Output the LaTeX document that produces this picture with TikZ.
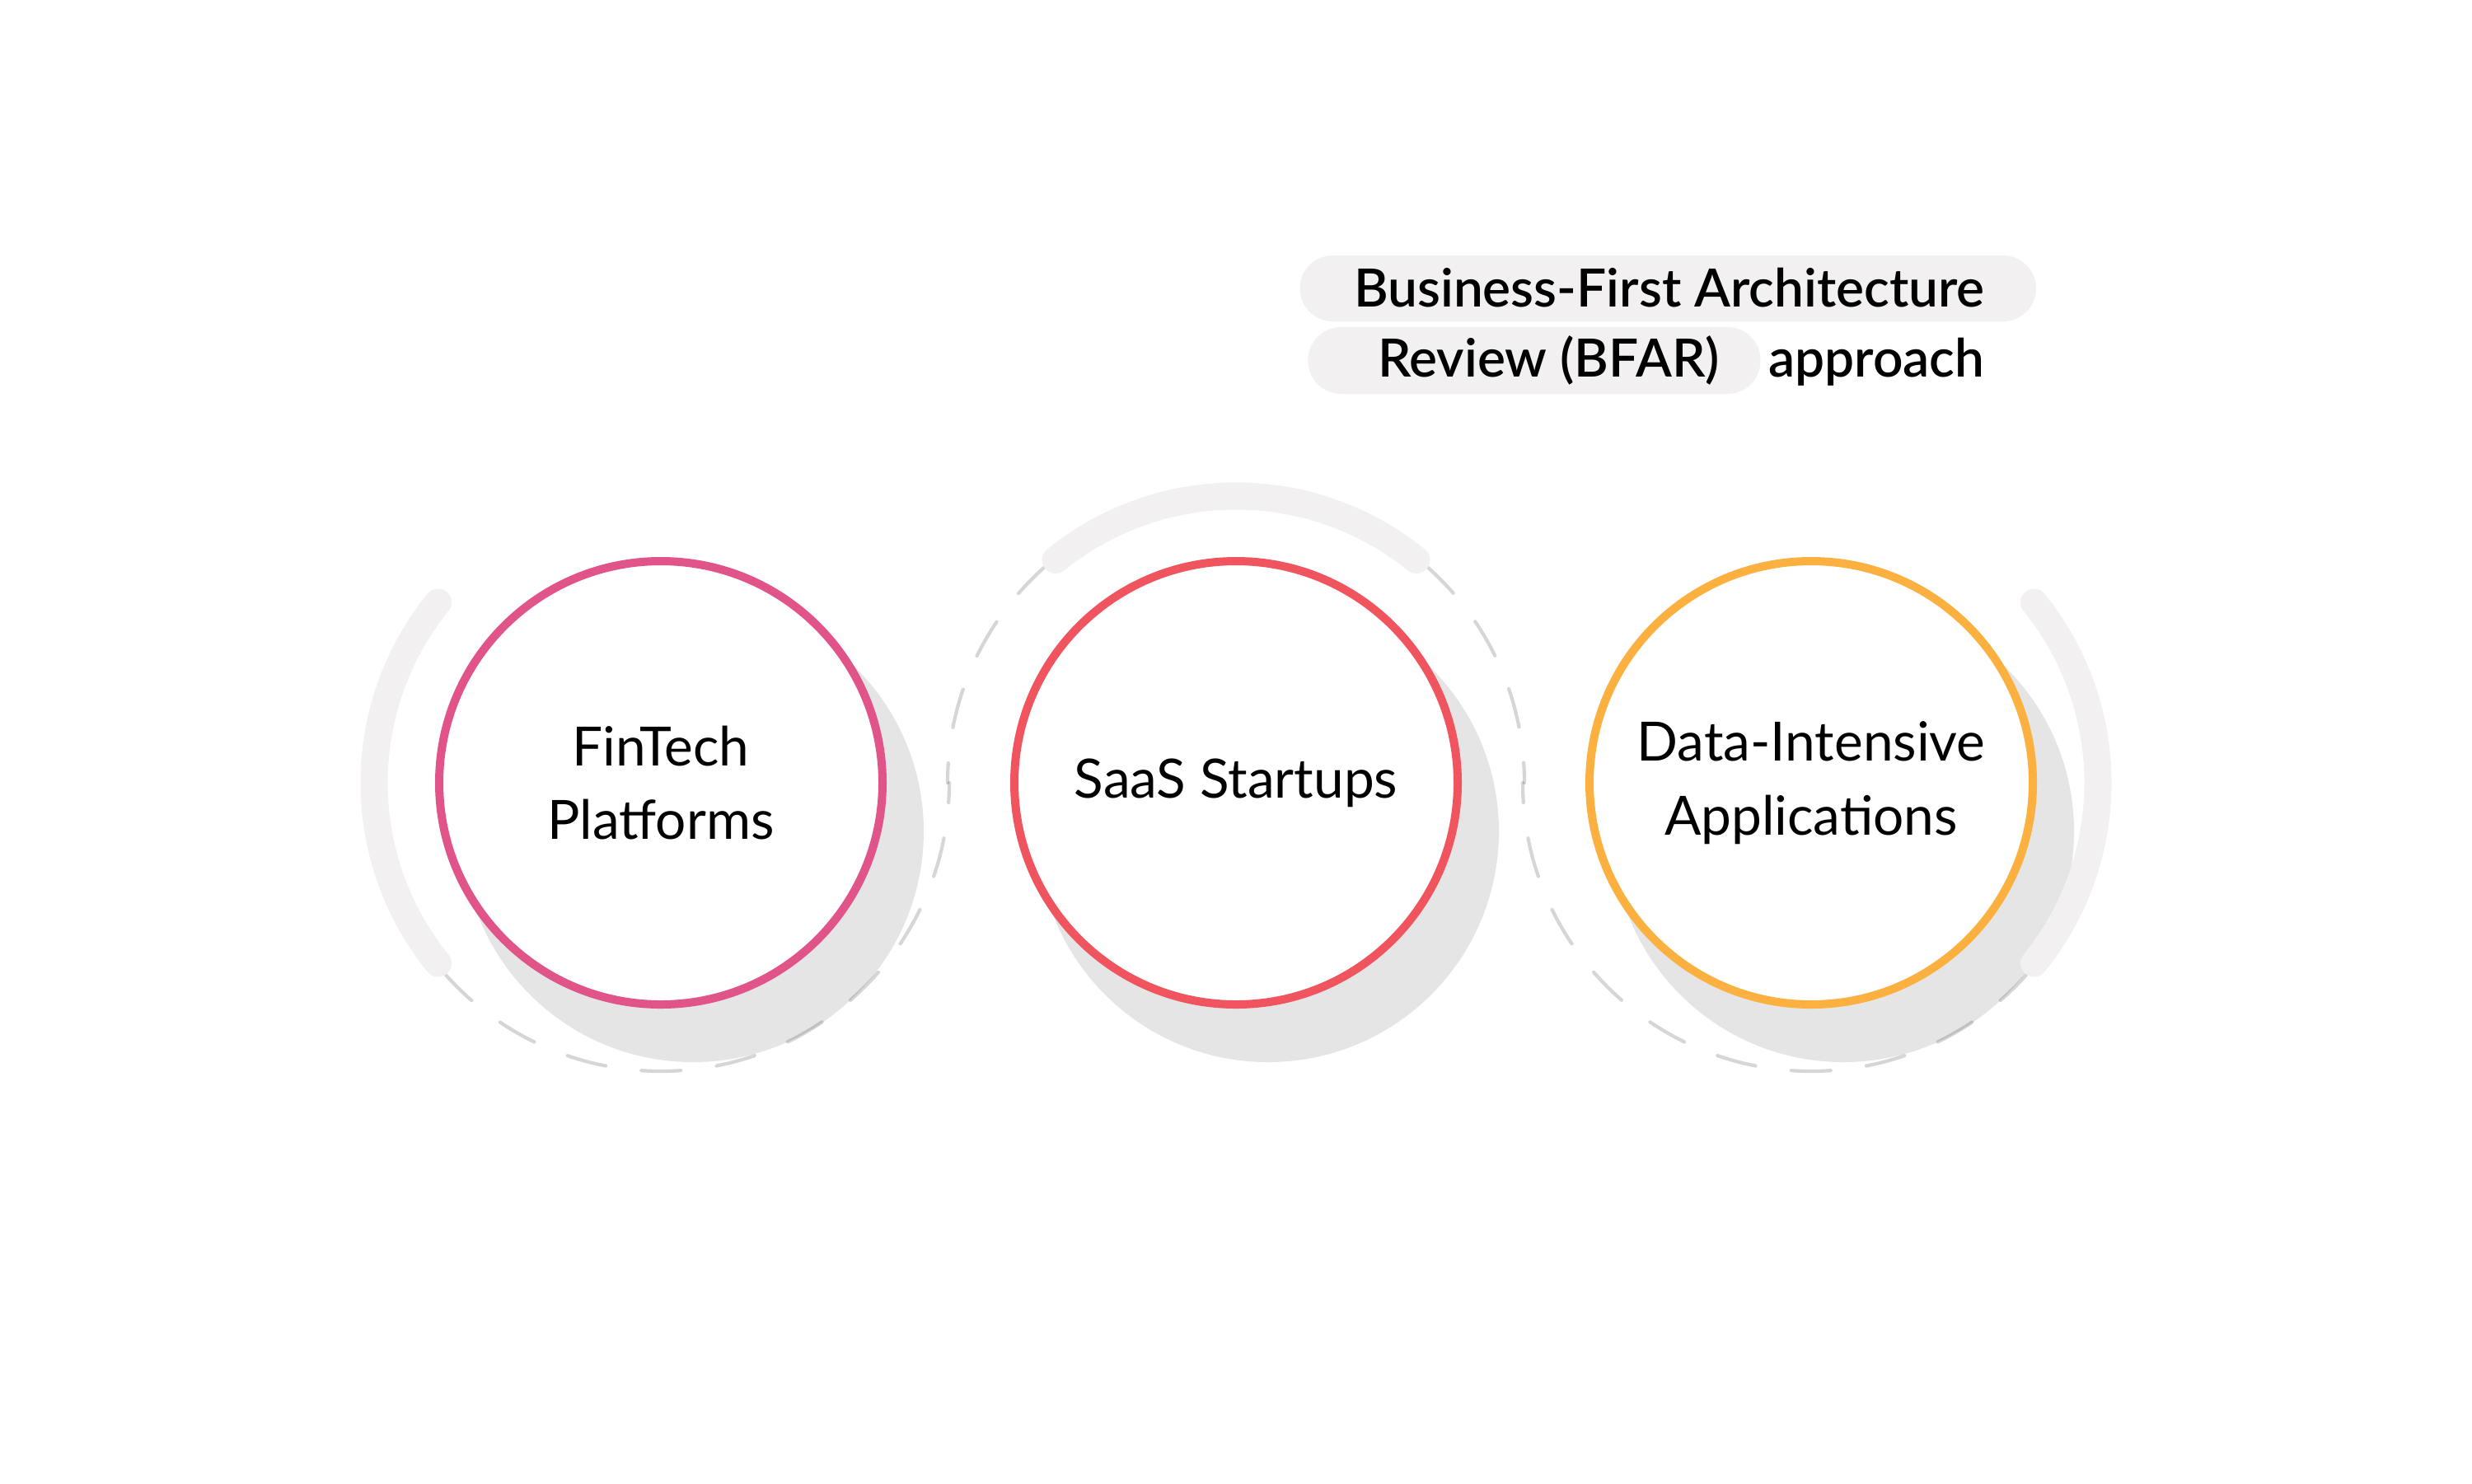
\documentclass[tikz,border=0pt]{standalone}
\usepackage{fontspec}
\setmainfont{Lato}
\newfontfamily\titlefont{Lato Semibold}
\usepackage{tikz}
\usetikzlibrary{positioning}
\usetikzlibrary{calc,backgrounds}
\definecolor{mypink}{RGB}{224,84,138}
\definecolor{myred}{RGB}{240,84,94}
\definecolor{myorange}{RGB}{251,176,64}
\definecolor{myshadow}{RGB}{229,229,229}
\definecolor{mylight}{RGB}{242,240,241}

\begin{document}
\begin{tikzpicture}[ring/.style={draw=black, draw opacity=0.16, line width=0.042cm, line cap=round,
                        dash pattern=on 0.48cm off 0.436cm, dash phase=0.24cm},
                    band/.style={draw=mylight, line width=0.33cm, line cap=round},
                    pill/.style={fill=mylight, rounded corners=0.4cm}]
	\useasboundingbox (0,0) rectangle (30,-18);
	\coordinate (c1) at (8.02,-9.5);
	\coordinate (c2) at (15,-9.5);
	\coordinate (c3) at (21.98,-9.5);

	% shadows
	\foreach \c in {c1,c2,c3}
	    \fill[myshadow] ($(\c)+(0.39,-0.59)$) circle (2.8);

	% dashed rings
	\draw[ring] ($(c1)+(0:3.5)$) arc[start angle=360, end angle=220, radius=3.5];
	\draw[ring] ($(c2)+(180:3.5)$) arc[start angle=180, end angle=0, radius=3.5];
	\draw[ring] ($(c3)+(180:3.5)$) arc[start angle=180, end angle=320, radius=3.5];

	% light bands
	\draw[band] ($(c1)+(141:3.48)$) arc[start angle=141, end angle=219, radius=3.48];
	\draw[band] ($(c2)+(51:3.48)$) arc[start angle=51, end angle=129, radius=3.48];
	\draw[band] ($(c3)+(-39:3.48)$) arc[start angle=-39, end angle=39, radius=3.48];

	\begin{scope}[every node/.style={circle, draw, fill=white, line width=0.1cm, minimum size=5.38cm,
	                                 inner sep=0, align=center, font=\fontsize{18.7}{25.5}\selectfont}]
	    \node[draw=mypink] (fintech) at (c1) {FinTech\\Platforms};
	    \node[draw=myred] (saas) at (c2) {SaaS Startups};
	    \node[draw=myorange] (data) at (c3) {Data-Intensive\\Applications};
	\end{scope}

	% title
	\begin{scope}[every node/.style={inner sep=0, font=\titlefont\fontsize{18.2}{25}\selectfont}]
	    \node[anchor=base east] (bfar) at (24.09,-3.72) {Business-First Architecture};
	    \node[anchor=base east] (approach) at (24.09,-4.57) {approach};
	    \node[base left=0.58cm of approach] (review) {Review (BFAR)};
	\end{scope}
	\begin{scope}[on background layer]
	    \fill[pill] ($(bfar.base west)+(-0.65,-0.18)$) rectangle ($(bfar.base east)+(0.62,0.62)$);
	    \fill[pill] ($(review.base west)+(-0.84,-0.21)$) rectangle ($(review.base east)+(0.49,0.60)$);
	\end{scope}
\end{tikzpicture}
\end{document}
